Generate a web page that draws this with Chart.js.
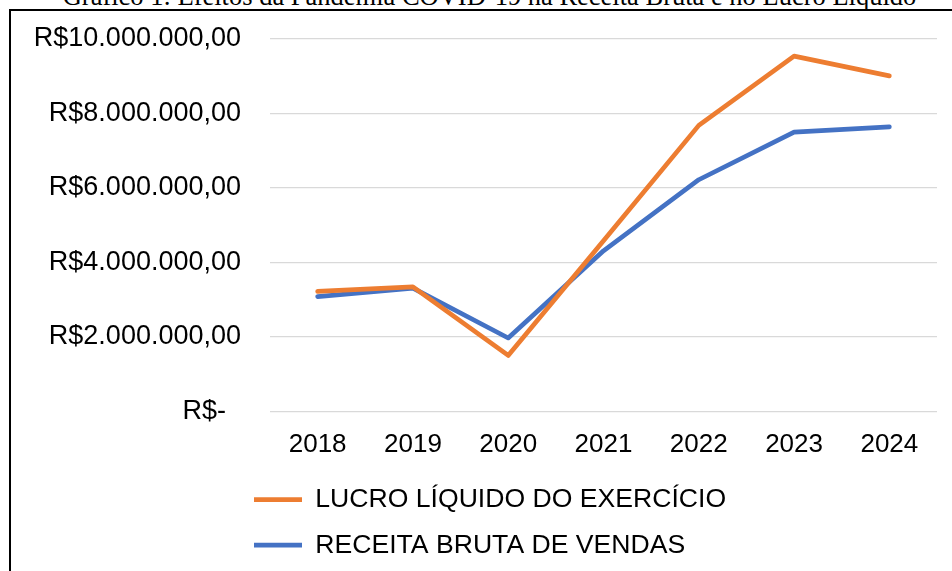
<!DOCTYPE html>
<html>
<head>
<meta charset="utf-8">
<script src="https://cdn.jsdelivr.net/npm/chart.js@4"></script>
<style>
  body { margin: 0; background: #fff; overflow: hidden; width: 952px; height: 571px; position: relative; }
  #title { position: absolute; left: 0; width: 979px; top: -17px; text-align: center;
           font: 26.5px "Liberation Serif", "Times New Roman", serif; line-height: 26.5px; white-space: nowrap; color: #000; }
  #box { position: absolute; left: 9px; top: 9px; width: 941px; height: 600px; border: 2px solid #000; }
  canvas { display: block; }
</style>
</head>
<body>
<div id="title">Gráfico 1: Efeitos da Pandemia COVID-19 na Receita Bruta e no Lucro Líquido</div>
<div id="box"><canvas id="chart" width="941" height="560"></canvas></div>
<script>
const years = ['2018', '2019', '2020', '2021', '2022', '2023', '2024'];
const lucroLiquido = [3220000, 3340000, 1500000, 4580000, 7680000, 9540000, 9010000];
const receitaBruta = [3080000, 3310000, 1970000, 4310000, 6220000, 7500000, 7640000];
const seriesNames = ['LUCRO LÍQUIDO DO EXERCÍCIO', 'RECEITA BRUTA DE VENDAS'];
const yMax = 10000000;
const yStep = 2000000;

function formatReal(v) {
    if (v === 0) return 'R$-\u00a0\u00a0';
    const s = Math.round(v).toString().replace(/\B(?=(\d{3})+(?!\d))/g, '.');
    return 'R$' + s + ',00';
}

// keeps the legend rows stacked and left aligned under the axis labels
const legendPlace = {
    id: 'legendPlace',
    afterLayout(chart) {
        const lg = chart.legend;
        lg.left = 224;
        lg.right = 744;
    }
};

const font = 'Liberation Sans, Arial, sans-serif';

new Chart(document.getElementById('chart').getContext('2d'), {
    type: 'line',
    data: {
        labels: years,
        datasets: [{
            label: seriesNames[0],
            data: lucroLiquido,
            borderColor: '#ED7D31',
            backgroundColor: '#ED7D31',
            borderWidth: 4.7,
            borderCapStyle: 'round',
            borderJoinStyle: 'round',
            pointRadius: 0,
            tension: 0
        }, {
            label: seriesNames[1],
            data: receitaBruta,
            borderColor: '#4472C4',
            backgroundColor: '#4472C4',
            borderWidth: 4.7,
            borderCapStyle: 'round',
            borderJoinStyle: 'round',
            pointRadius: 0,
            tension: 0
        }]
    },
    options: {
        responsive: false,
        animation: false,
        layout: { padding: { top: 28, left: 21, right: 15, bottom: 2.5 } },
        plugins: {
            title: { display: false },
            tooltip: { enabled: false },
            legend: {
                position: 'bottom',
                align: 'start',
                labels: {
                    color: '#000',
                    font: { family: font, size: 26.6 },
                    usePointStyle: true,
                    pointStyle: 'line',
                    pointStyleWidth: 48,
                    padding: 19
                }
            }
        },
        scales: {
            x: {
                offset: true,
                grid: { display: false, drawTicks: false },
                border: { display: false },
                ticks: { color: '#000', font: { family: font, size: 26 }, padding: 18, maxRotation: 0 },
                afterFit: s => { s.height = 56; }
            },
            y: {
                min: 0,
                max: yMax,
                grid: { color: '#d9d9d9', lineWidth: 1.3, drawTicks: false },
                border: { display: false },
                ticks: {
                    stepSize: yStep,
                    color: '#000',
                    font: { family: font, size: 27 },
                    padding: 29,
                    callback: v => formatReal(v)
                },
                afterFit: s => {
                    s.width = 238;
                    s.paddingTop = 0;
                }
            }
        }
    },
    plugins: [legendPlace]
});
</script>
</body>
</html>
